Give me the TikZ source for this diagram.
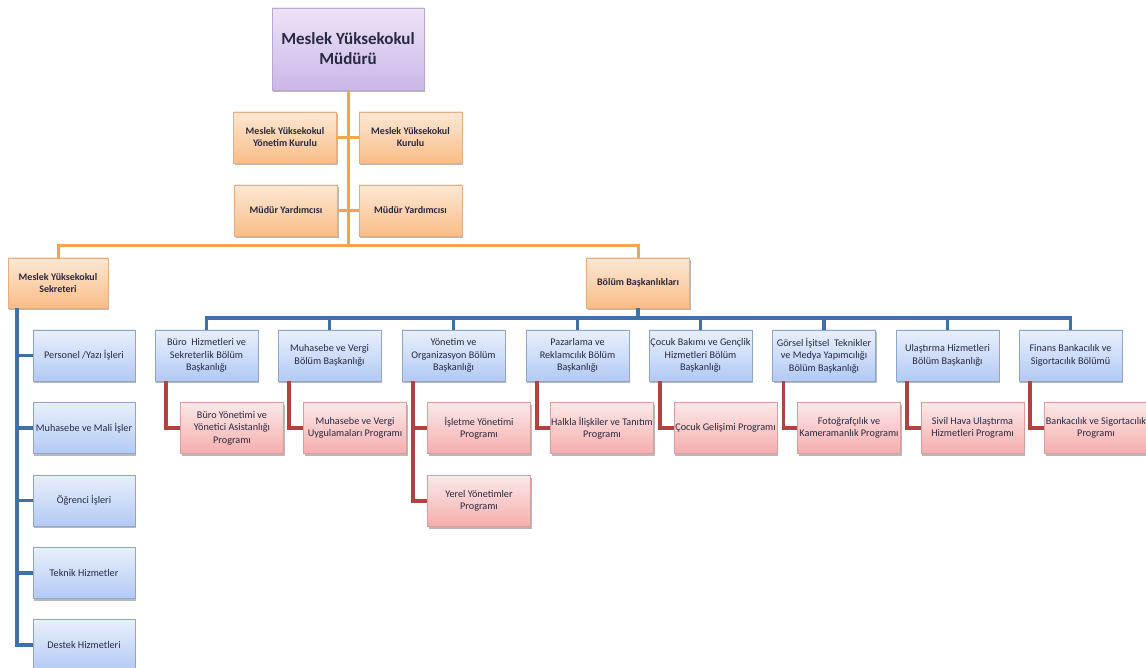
\documentclass[tikz,border=0pt]{standalone}
\usepackage{fontspec}
\setmainfont{Carlito}
\usetikzlibrary{shadows}
\usetikzlibrary{positioning}
\definecolor{mtext}{rgb}{0.16, 0.16, 0.26}
\definecolor{morange}{rgb}{0.96, 0.64, 0.30}
\definecolor{mblue}{rgb}{0.25, 0.44, 0.66}
\definecolor{mred}{rgb}{0.69, 0.26, 0.25}
\definecolor{ptop}{rgb}{0.93, 0.89, 0.97}
\definecolor{pbot}{rgb}{0.79, 0.72, 0.91}
\definecolor{pline}{rgb}{0.72, 0.66, 0.82}
\definecolor{otop}{rgb}{0.99, 0.91, 0.83}
\definecolor{obot}{rgb}{0.98, 0.74, 0.53}
\definecolor{oedge}{rgb}{0.90, 0.68, 0.50}
\definecolor{btop}{rgb}{0.91, 0.94, 0.99}
\definecolor{bbot}{rgb}{0.70, 0.79, 0.96}
\definecolor{bedge}{rgb}{0.56, 0.65, 0.80}
\definecolor{rtop}{rgb}{0.99, 0.91, 0.91}
\definecolor{rbot}{rgb}{0.96, 0.68, 0.68}
\definecolor{redge}{rgb}{0.85, 0.62, 0.62}
\tikzset{box/.style = {draw, rectangle, align=center, inner xsep=0pt, inner ysep=2pt, text=mtext,
                       font=\fontsize{10.2}{12.5}\selectfont,
                       drop shadow={shadow xshift=1pt, shadow yshift=-2pt, opacity=0.55}}}
\tikzset{pbox/.style = {box, draw=pline, top color=ptop, bottom color=pbot,
                        minimum width=152, minimum height=82,
                        font=\fontsize{17}{20}\selectfont\bfseries}}
\tikzset{obox/.style = {box, draw=oedge, top color=otop, bottom color=obot,
                        minimum width=103, minimum height=51,
                        font=\fontsize{10}{12}\selectfont\bfseries}}
\tikzset{bbox/.style = {box, draw=bedge, top color=btop, bottom color=bbot,
                        minimum width=103, minimum height=51}}
\tikzset{rbox/.style = {box, draw=redge, top color=rtop, bottom color=rbot,
                        minimum width=103, minimum height=51}}
\tikzset{oline/.style = {morange, line width=3}}
\tikzset{bline/.style = {mblue, line width=3.5}}
\tikzset{rline/.style = {mred, line width=3.5}}

\begin{document}
\begin{tikzpicture}[x=1pt, y=-1pt]
      \useasboundingbox [fill=white] (0, 0) rectangle (1146, 668);

      % top
      \node [pbox] (mudur) at (348, 49) {Meslek Yüksekokul\\Müdürü};
      \node [obox] (ykurul) at (285, 137.5) {Meslek Yüksekokul\\Yönetim Kurulu};
      \node [obox] (kurul) at (410.5, 137.5) {Meslek Yüksekokul\\Kurulu};
      \node [obox] (yard1) at (286, 210.5) {Müdür Yardımcısı};
      \node [obox] (yard2) at (410.5, 210.5) {Müdür Yardımcısı};
      \node [obox, minimum width=100, minimum height=50] (sekreter) at (58, 283) {Meslek Yüksekokul\\Sekreteri};
      \node [obox, minimum height=50] (bolum) at (638, 283) {Bölüm Başkanlıkları};

      \coordinate (obar) at (348, 246);
      \draw [oline] (mudur.south) -- (obar);
      \draw [oline] (ykurul.east) -- (ykurul.east -| obar);
      \draw [oline] (kurul.west) -- (kurul.west -| obar);
      \draw [oline] (yard1.east) -- (yard1.east -| obar);
      \draw [oline] (yard2.west) -- (yard2.west -| obar);
      \draw [oline] (sekreter.north) |- (obar) -| (bolum.north);

      % sekreterlik
      \node [bbox, minimum width=102] (s1) at (84, 355.5) {Personel /Yazı İşleri};
      \node [bbox, minimum width=102] (s2) at (84, 428) {Muhasebe ve Mali İşler};
      \node [bbox, minimum width=102] (s3) at (84, 500.5) {Öğrenci İşleri};
      \node [bbox, minimum width=102] (s4) at (84, 573) {Teknik Hizmetler};
      \node [bbox, minimum width=102] (s5) at (84, 645) {Destek Hizmetleri};
      \foreach \i in {1, ..., 5}
        \draw [bline] ([xshift=9]sekreter.south west) |- (s\i.west);

      % bolumler
      \node [bbox] (d1) at (206.5, 355.5) {Büro~ Hizmetleri ve\\Sekreterlik Bölüm\\Başkanlığı};
      \node [bbox] (d2) at (329.5, 355.5) {Muhasebe ve Vergi\\Bölüm Başkanlığı};
      \node [bbox] (d3) at (453.5, 355.5) {Yönetim ve\\Organizasyon Bölüm\\Başkanlığı};
      \node [bbox] (d4) at (577.5, 355.5) {Pazarlama ve\\Reklamcılık Bölüm\\Başkanlığı};
      \node [bbox] (d5) at (700.5, 355.5) {Çocuk Bakımı ve Gençlik\\Hizmetleri Bölüm\\Başkanlığı};
      \node [bbox] (d6) at (824, 355.5) {Görsel İşitsel~ Teknikler\\ve Medya Yapımcılığı\\Bölüm Başkanlığı};
      \node [bbox] (d7) at (947.5, 355.5) {Ulaştırma Hizmetleri\\Bölüm Başkanlığı};
      \node [bbox] (d8) at (1070.5, 355.5) {Finans Bankacılık ve\\Sigortacılık Bölümü};

      \coordinate (bbar) at (638, 318);
      \draw [bline] (bolum.south) -- (bbar);
      \foreach \i in {1, ..., 8}
        \draw [bline] (bbar) -| (d\i.north);

      % programlar
      \node [rbox] (p1) at (232, 428) {Büro Yönetimi ve\\Yönetici Asistanlığı\\Programı};
      \node [rbox] (p2) at (355, 428) {Muhasebe ve Vergi\\Uygulamaları Programı};
      \node [rbox] (p3) at (479, 428) {İşletme Yönetimi\\Programı};
      \node [rbox] (p9) at (479, 501) {Yerel Yönetimler\\Programı};
      \node [rbox] (p4) at (602, 428) {Halkla İlişkiler ve Tanıtım\\Programı};
      \node [rbox] (p5) at (725.5, 428) {Çocuk Gelişimi Programı};
      \node [rbox] (p6) at (849, 428) {Fotoğrafçılık ve\\Kameramanlık Programı};
      \node [rbox] (p7) at (972.5, 428) {Sivil Hava Ulaştırma\\Hizmetleri Programı};
      \node [rbox] (p8) at (1096, 428) {Bankacılık ve Sigortacılık\\Programı};

      \foreach \i in {1, ..., 8}
        \draw [rline] ([xshift=11]d\i.south west) |- (p\i.west);
      \draw [rline] ([xshift=11]d3.south west) |- (p9.west);
    \end{tikzpicture}
\end{document}
